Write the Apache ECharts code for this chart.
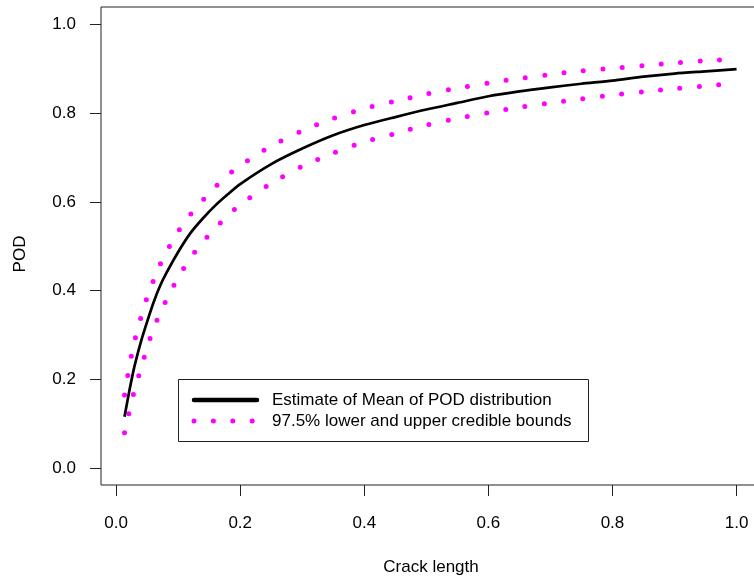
<!DOCTYPE html>
<html>
<head>
<meta charset="utf-8">
<script src="https://cdn.jsdelivr.net/npm/echarts@6/dist/echarts.min.js"></script>
<style>
html,body{margin:0;padding:0;background:#fff;}
#chart{width:754px;height:581px;}
</style>
</head>
<body>
<div id="chart"></div>
<script>
// Crack length grid
var crackLength = [0.0135, 0.02, 0.025, 0.03, 0.04, 0.05, 0.06, 0.07, 0.08, 0.10, 0.12, 0.14, 0.16, 0.18, 0.20, 0.25, 0.30, 0.35, 0.40, 0.45, 0.50, 0.55, 0.60, 0.65, 0.70, 0.75, 0.80, 0.85, 0.90, 0.95, 1.00];
// Estimate of mean POD
var podMean = [0.116, 0.165, 0.200, 0.232, 0.285, 0.330, 0.372, 0.408, 0.437, 0.487, 0.530, 0.563, 0.592, 0.617, 0.640, 0.685, 0.720, 0.750, 0.773, 0.791, 0.808, 0.823, 0.838, 0.849, 0.858, 0.866, 0.873, 0.882, 0.889, 0.894, 0.899];
// 97.5% upper credible bound
var podUpper = [0.165, 0.218, 0.256, 0.288, 0.340, 0.385, 0.422, 0.456, 0.485, 0.533, 0.572, 0.604, 0.634, 0.660, 0.682, 0.726, 0.760, 0.788, 0.810, 0.827, 0.843, 0.856, 0.868, 0.878, 0.887, 0.895, 0.901, 0.907, 0.913, 0.918, 0.921];
// 97.5% lower credible bound
var podLower = [0.080, 0.120, 0.151, 0.177, 0.225, 0.272, 0.313, 0.347, 0.376, 0.430, 0.474, 0.510, 0.541, 0.569, 0.594, 0.642, 0.680, 0.710, 0.735, 0.754, 0.773, 0.788, 0.801, 0.813, 0.823, 0.832, 0.841, 0.848, 0.855, 0.861, 0.867];
// Tick values
var xTicks = [0, 0.2, 0.4, 0.6, 0.8, 1.0];
var yTicks = [0, 0.2, 0.4, 0.6, 0.8, 1.0];
var legendLabels = ['Estimate of Mean of POD distribution', '97.5% lower and upper credible bounds'];
var xTitle = 'Crack length';
var yTitle = 'POD';

function pairs(xs, ys) { return xs.map(function (x, i) { return [x, ys[i]]; }); }

var FONT = "'Liberation Sans', Arial, Helvetica, sans-serif";
var FS = 17;
var dotStyle = { color: '#FF00FF', width: 5, type: [0, 19.5], cap: 'round' };

var chart = echarts.init(document.getElementById('chart'), null, { renderer: 'canvas' });
chart.setOption({
  animation: false,
  backgroundColor: '#fff',
  grid: { left: 101, top: 7, width: 660, height: 478, show: true, borderColor: '#222', borderWidth: 1, backgroundColor: 'transparent', containLabel: false, outerBoundsMode: 'none' },
  xAxis: {
    type: 'value', min: -0.0244, max: 1.0394,
    name: xTitle, nameLocation: 'middle', nameGap: 74,
    nameTextStyle: { fontFamily: FONT, fontSize: FS, color: '#000' },
    axisLine: { show: false, onZero: false },
    axisTick: { show: true, inside: false, length: 11, customValues: xTicks, lineStyle: { color: '#222', width: 1 } },
    axisLabel: { customValues: xTicks, margin: 30, fontFamily: FONT, fontSize: FS, color: '#000', formatter: function (v) { return v.toFixed(1); } },
    splitLine: { show: false }
  },
  yAxis: {
    type: 'value', min: -0.038, max: 1.039,
    axisLine: { show: false, onZero: false },
    axisTick: { show: true, inside: false, length: 11, customValues: yTicks, lineStyle: { color: '#222', width: 1 } },
    axisLabel: { customValues: yTicks, margin: 25, fontFamily: FONT, fontSize: FS, color: '#000', formatter: function (v) { return v.toFixed(1); } },
    splitLine: { show: false }
  },
  series: [
    { name: 'upper', type: 'line', data: pairs(crackLength, podUpper), showSymbol: false, smooth: 0.25, lineStyle: dotStyle, z: 2 },
    { name: 'lower', type: 'line', data: pairs(crackLength, podLower), showSymbol: false, smooth: 0.25, lineStyle: dotStyle, z: 2 },
    { name: 'mean', type: 'line', data: pairs(crackLength, podMean), showSymbol: false, smooth: 0.25, lineStyle: { color: '#000', width: 2.7 }, z: 3 }
  ],
  graphic: [
    { type: 'text', x: 20, y: 254, rotation: Math.PI / 2, style: { text: yTitle, font: FS + 'px ' + FONT, fill: '#000', align: 'center', verticalAlign: 'middle' }, z: 11 },
    { type: 'rect', shape: { x: 178.5, y: 379.5, width: 410, height: 62 }, style: { fill: '#fff', stroke: '#222', lineWidth: 1 }, z: 10 },
    { type: 'line', shape: { x1: 194, y1: 400, x2: 257, y2: 400 }, style: { stroke: '#000', lineWidth: 4.5, lineCap: 'round' }, z: 11 },
    { type: 'line', shape: { x1: 194, y1: 421, x2: 260, y2: 421 }, style: { stroke: '#FF00FF', lineWidth: 5, lineDash: [0, 19.4], lineCap: 'round' }, z: 11 },
    { type: 'text', x: 272, y: 400, style: { text: legendLabels[0], font: FS + 'px ' + FONT, fill: '#000', verticalAlign: 'middle' }, z: 11 },
    { type: 'text', x: 272, y: 421, style: { text: legendLabels[1], font: FS + 'px ' + FONT, fill: '#000', verticalAlign: 'middle' }, z: 11 }
  ]
});
</script>
</body>
</html>
